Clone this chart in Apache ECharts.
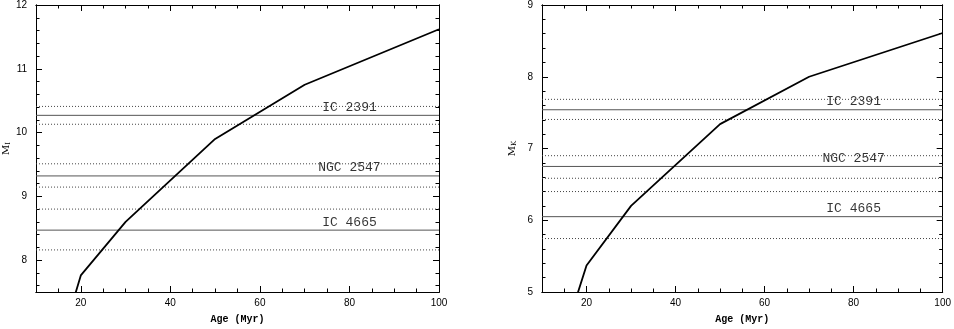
<!DOCTYPE html>
<html>
<head>
<meta charset="utf-8">
<script src="https://cdn.jsdelivr.net/npm/echarts@6/dist/echarts.min.js"></script>
<style>
  html, body { margin: 0; padding: 0; background: #fff; }
  #chart { width: 954px; height: 329px; }
</style>
</head>
<body>
<div id="chart"></div>
<script>
// age axis
const xMin = 10
const xMax = 100
const xMajorTicks = [20, 40, 60, 80, 100]
const xMinorTicks = [15, 25, 30, 35, 45, 50, 55, 65, 70, 75, 85, 90, 95]

// isochrone track (age in Myr)
const ages = [18, 20, 30, 50, 70, 100]
const magI = [7.29, 7.76, 8.60, 9.90, 10.75, 11.62]
const magK = [4.98, 5.37, 6.20, 7.34, 8.00, 8.61]

// clusters
const clusterNames = ['IC 2391', 'NGC 2547', 'IC 4665']
const labelAge = 80
const iMean = [10.27, 9.32, 8.47]
const iLow = [10.13, 9.145, 8.16]
const iHigh = [10.41, 9.51, 8.80]
const kMean = [7.54, 6.75, 6.05]
const kLow = [7.405, 6.585, 5.745]
const kHigh = [7.685, 6.90, 6.40]

// y axes
const iMin = 7.5
const iMax = 12
const iMajorTicks = [8, 9, 10, 11, 12]
const iMinorTicks = [7.6, 7.8, 8.2, 8.4, 8.6, 8.8, 9.2, 9.4, 9.6, 9.8, 10.2, 10.4, 10.6, 10.8, 11.2, 11.4, 11.6, 11.8]
const kMin = 5
const kMax = 9
const kMajorTicks = [5, 6, 7, 8, 9]
const kMinorTicks = [5.2, 5.4, 5.6, 5.8, 6.2, 6.4, 6.6, 6.8, 7.2, 7.4, 7.6, 7.8, 8.2, 8.4, 8.6, 8.8]

const tickFont = { color: '#000', fontFamily: 'Liberation Sans', fontSize: 10 }

function xAxisOf(grid, position, ticks, len, withLabels) {
  const ax = {
    type: 'value',
    gridIndex: grid,
    position: position,
    min: xMin,
    max: xMax,
    axisLine: { show: true, onZero: false, lineStyle: { color: '#000', width: 1 } },
    axisTick: { show: true, inside: true, length: len, customValues: ticks, lineStyle: { color: '#000', width: 1 } },
    axisLabel: { show: false },
    splitLine: { show: false }
  }
  if (withLabels) {
    ax.axisLabel = Object.assign({ show: true, margin: 6, customValues: ticks }, tickFont)
    ax.name = 'Age (Myr)'
    ax.nameLocation = 'middle'
    ax.nameGap = 22
    ax.nameTextStyle = { color: '#000', fontFamily: 'Liberation Mono', fontSize: 10, fontWeight: 'bold' }
  }
  return ax
}

function yAxisOf(grid, position, min, max, ticks, len, name) {
  const ax = {
    type: 'value',
    gridIndex: grid,
    position: position,
    min: min,
    max: max,
    axisLine: { show: true, onZero: false, lineStyle: { color: '#000', width: 1 } },
    axisTick: { show: true, inside: true, length: len, customValues: ticks, lineStyle: { color: '#000', width: 1 } },
    axisLabel: { show: false },
    splitLine: { show: false }
  }
  if (name) {
    ax.axisLabel = Object.assign({ show: true, margin: 9, customValues: ticks }, tickFont)
    ax.name = '{m|M}{s|' + name + '}'
    ax.nameLocation = 'middle'
    ax.nameRotate = 90
    ax.nameGap = 24
    ax.nameTextStyle = {
      rich: {
        m: { color: '#000', fontFamily: 'DejaVu Serif', fontSize: 10 },
        s: { color: '#000', fontFamily: 'DejaVu Serif', fontSize: 7, padding: [5, 0, 0, 0] }
      }
    }
  }
  return ax
}

const xAxes = []
const yAxes = []
;[0, 1].forEach(g => {
  xAxes.push(xAxisOf(g, 'bottom', xMajorTicks, 6, true))
  xAxes.push(xAxisOf(g, 'bottom', xMinorTicks, 3.5, false))
  xAxes.push(xAxisOf(g, 'top', xMajorTicks, 6, false))
  xAxes.push(xAxisOf(g, 'top', xMinorTicks, 3.5, false))
})
yAxes.push(yAxisOf(0, 'left', iMin, iMax, iMajorTicks, 6, 'I'))
yAxes.push(yAxisOf(0, 'left', iMin, iMax, iMinorTicks, 3.5, null))
yAxes.push(yAxisOf(0, 'right', iMin, iMax, iMajorTicks, 6, null))
yAxes.push(yAxisOf(0, 'right', iMin, iMax, iMinorTicks, 3.5, null))
yAxes.push(yAxisOf(1, 'left', kMin, kMax, kMajorTicks, 6, 'K'))
yAxes.push(yAxisOf(1, 'left', kMin, kMax, kMinorTicks, 3.5, null))
yAxes.push(yAxisOf(1, 'right', kMin, kMax, kMajorTicks, 6, null))
yAxes.push(yAxisOf(1, 'right', kMin, kMax, kMinorTicks, 3.5, null))

function hline(xi, yi, v, dotted) {
  return {
    type: 'line',
    xAxisIndex: xi,
    yAxisIndex: yi,
    symbol: 'none',
    silent: true,
    animation: false,
    lineStyle: dotted
      ? { color: '#444', width: 1, type: [1, 2] }
      : { color: '#555', width: 1 },
    data: [[xMin, v], [xMax, v]]
  }
}

function panelSeries(xi, yi, mags, mean, low, high) {
  const s = []
  clusterNames.forEach((name, i) => {
    s.push(hline(xi, yi, high[i], true))
    s.push(hline(xi, yi, mean[i], false))
    s.push(hline(xi, yi, low[i], true))
    s.push({
      type: 'scatter',
      xAxisIndex: xi,
      yAxisIndex: yi,
      symbolSize: 1,
      itemStyle: { color: 'rgba(0,0,0,0)' },
      silent: true,
      animation: false,
      label: {
        show: true,
        position: 'top',
        distance: 1,
        formatter: name,
        color: '#000',
        fontFamily: 'Liberation Mono',
        fontSize: 13
      },
      data: [[labelAge, mean[i]]]
    })
  })
  s.push({
    type: 'line',
    xAxisIndex: xi,
    yAxisIndex: yi,
    symbol: 'none',
    animation: false,
    clip: true,
    lineStyle: { color: '#000', width: 1.8 },
    data: ages.map((a, i) => [a, mags[i]])
  })
  return s
}

const chart = echarts.init(document.getElementById('chart'))
chart.setOption({
  backgroundColor: '#fff',
  animation: false,
  grid: [
    { left: 36, top: 4, width: 403, height: 295 },
    { left: 542, top: 4, width: 402, height: 295 }
  ],
  xAxis: xAxes,
  yAxis: yAxes,
  series: [].concat(
    panelSeries(0, 0, magI, iMean, iLow, iHigh),
    panelSeries(4, 4, magK, kMean, kLow, kHigh)
  )
})
</script>
</body>
</html>
